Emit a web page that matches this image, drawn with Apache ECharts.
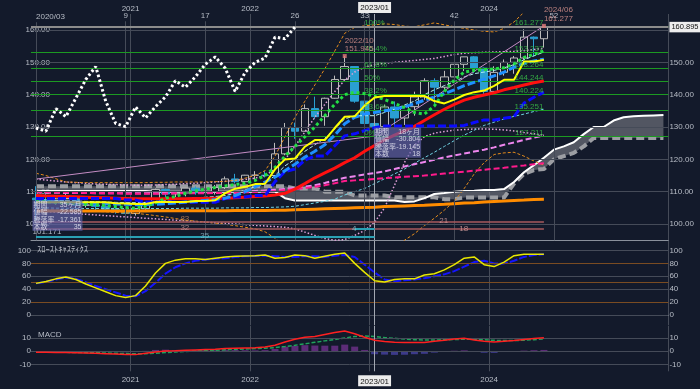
<!DOCTYPE html>
<html><head><meta charset="utf-8">
<script src="https://cdn.jsdelivr.net/npm/echarts@6/dist/echarts.min.js"></script>
<style>html,body{margin:0;padding:0;background:#131a2b;}#chart{width:700px;height:389px;}</style>
</head><body><div id="chart"></div>
<script>
// ---------- categories ----------
const months = ['2020/03','2020/04','2020/05','2020/06','2020/07','2020/08','2020/09','2020/10','2020/11','2020/12',
'2021/01','2021/02','2021/03','2021/04','2021/05','2021/06','2021/07','2021/08','2021/09','2021/10','2021/11','2021/12',
'2022/01','2022/02','2022/03','2022/04','2022/05','2022/06','2022/07','2022/08','2022/09','2022/10','2022/11','2022/12',
'2023/01','2023/02','2023/03','2023/04','2023/05','2023/06','2023/07','2023/08','2023/09','2023/10','2023/11','2023/12',
'2024/01','2024/02','2024/03','2024/04','2024/05','2024/06','2024/07','2024/08','2024/09','2024/10','2024/11','2024/12',
'2025/01','2025/02','2025/03','2025/04','2025/05','2025/06'];
const yearBoundaryIdx = [10, 22, 34, 46];
const yearLabels = {10:'2021', 22:'2022', 46:'2024'};
const cursorIdx = 34, cursorLabel = '2023/01';
const countIdx = [9, 17, 26, 33, 42, 52];
const startLabel = '2020/03';

// ---------- candles ----------
const open  = [108.0,107.5,107.2,107.8,107.9,105.8,105.9,105.5,104.6,104.3,103.25,104.7,106.6,110.7,109.3,109.6,111.1,109.7,110.0,111.3,113.95,113.1,115.1,115.1,115.0,121.7,129.8,128.7,135.7,133.2,138.9,144.7,148.7,138.0,131.1,130.1,136.2,132.8,136.3,139.3,144.3,142.3,145.5,149.4,151.7,148.2,141.0,146.9,150.0,151.35,157.8,157.3];
const high  = [111.71,109.38,108.08,109.85,108.16,107.05,106.55,105.80,105.68,104.75,104.94,106.69,110.97,110.96,110.20,111.11,111.66,110.80,112.08,114.70,115.52,115.20,116.35,116.34,125.10,131.25,131.35,137.00,139.39,139.08,145.90,151.945,148.82,138.18,131.50,136.92,137.91,136.56,140.93,145.07,145.07,147.37,149.71,151.72,151.91,148.40,148.80,150.89,151.97,160.21,157.99,161.277];
const low   = [101.171,106.36,105.99,106.07,104.19,105.10,104.00,104.02,103.18,102.88,102.59,104.41,106.36,107.48,108.34,108.56,109.06,108.72,109.11,110.82,112.53,112.54,113.47,114.40,114.65,121.27,126.36,128.65,132.50,130.39,138.77,144.56,137.50,130.57,127.211,128.08,129.64,130.63,133.50,138.43,137.24,141.51,144.44,147.30,146.67,140.25,140.80,145.90,146.48,150.81,151.86,154.55];
const close = [107.5,107.2,107.8,107.9,105.8,105.9,105.5,104.6,104.3,103.25,104.7,106.6,110.7,109.3,109.6,111.1,109.7,110.0,111.3,113.95,113.1,115.1,115.1,115.0,121.7,129.8,128.7,135.7,133.2,138.9,144.7,148.7,138.0,131.1,130.1,136.2,132.8,136.3,139.3,144.3,142.3,145.5,149.4,151.7,148.2,141.0,146.9,150.0,151.35,157.8,157.3,160.895];

// ---------- ichimoku ----------
const laggingSpan = [129.7,128.7,135.7,133.2,138.9,144.7,148.7,138.0,131.1,130.1,136.2,132.8,136.3,139.3,144.3,142.3,145.5,149.4,151.7,148.2,141.0,146.9,150.0,151.35,157.8,157.3,160.895];
const spanA = [110.2,110.2,110.2,110.2,110.2,110.2,110.2,110.2,110.2,110.2,110.2,110.2,110.0,110.0,110.0,110.0,110.0,110.0,110.0,110.0,110.0,110.0,110.0,110.0,110.0,
108.0,107.3,107.3,107.3,107.3,107.3,107.3,107.3,107.3,107.3,107.3,107.3,106.8,107.0,108.0,109.3,109.6,110.0,110.2,110.3,110.5,110.5,110.8,
113.0,116.0,118.2,120.5,123.0,124.0,125.3,127.8,130.0,130.0,132.0,133.0,133.3,133.5,133.6,133.7];
const spanB = [111.7,111.7,111.7,111.7,111.7,111.7,111.7,111.7,111.7,111.7,111.7,111.7,111.7,111.7,111.7,111.7,111.7,111.7,111.7,111.7,111.7,111.7,111.7,111.7,111.7,111.7,
111.0,111.0,111.0,110.0,110.0,110.0,108.8,108.8,108.8,108.8,108.3,108.3,108.3,108.3,108.3,107.7,107.7,108.2,108.2,108.2,108.2,108.2,
112.5,115.5,116.7,117.0,120.0,121.0,122.0,124.0,126.6,126.6,126.6,126.6,126.6,126.6,126.6,126.6];
const tenkan = [106.7,106.7,106.7,106.7,106.7,106.7,106.7,106.7,106.45,106.37,106.22,106.22,106.78,106.78,106.78,106.85,107.13,107.13,107.34,109.56,110.94,111.5,112.35,112.46,116.91,119.99,120.23,123.91,125.96,125.97,129.69,133.18,133.3,136.61,139.16,139.59,139.59,139.59,139.59,139.59,138.02,137.3,138.47,139.9,140.78,141.27,142.7,144.58,144.6,150.23,150.23,150.76];
const kijun = [107.9,107.9,107.9,107.9,107.9,107.9,107.9,107.9,107.9,107.4,107.4,106.8,106.8,106.8,106.8,106.7,106.7,106.7,106.7,107.9,108.35,108.35,108.8,108.8,113.1,116.2,117.0,119.8,121.0,121.0,124.2,127.27,127.9,128.9,129.8,130.3,130.3,130.3,130.3,130.3,130.3,130.3,130.3,130.5,131.4,132.2,132.2,132.7,133.2,137.4,139.2,140.8];

// ---------- moving lines ----------
const blueMA = [107.0,106.9,106.8,106.7,106.6,106.5,106.4,106.3,106.2,106.1,106.0,106.0,106.1,106.3,106.5,106.8,107.0,107.3,107.6,108.0,108.8,110.0,111.5,113.0,114.5,116.5,118.5,120.7,122.5,124.5,127.5,131.0,133.0,134.0,134.5,135.0,135.5,136.2,137.2,138.3,139.3,140.3,141.5,142.8,143.8,144.8,145.8,147.0,148.5,149.7,150.4,151.0];
const redMA = [108.8,108.7,108.6,108.5,108.4,108.3,108.2,108.1,108.0,107.9,107.8,107.8,107.8,107.8,107.8,107.8,107.9,107.9,108.0,108.0,108.1,108.3,108.5,108.7,109.0,109.5,110.8,112.5,114.3,115.8,117.3,119.0,120.5,122.5,124.3,126.0,127.5,128.8,130.2,132.0,133.8,135.5,137.0,138.3,139.2,139.9,140.6,141.5,142.2,143.0,143.7,144.2];
const orangeMA = [104.0,104.0,104.0,104.0,104.0,104.0,104.0,104.0,104.0,104.0,104.0,104.0,104.1,104.1,104.1,104.1,104.1,104.1,104.1,104.1,104.2,104.2,104.2,104.2,104.3,104.3,104.4,104.5,104.6,104.7,104.8,104.9,105.0,105.1,105.2,105.4,105.5,105.6,105.7,105.8,106.0,106.1,106.3,106.5,106.6,106.8,107.0,107.1,107.3,107.4,107.6,107.7];
const pinkMA = [110.0,109.9,109.8,109.8,109.7,109.6,109.6,109.5,109.5,109.4,109.4,109.4,109.4,109.4,109.5,109.5,109.5,109.5,109.6,109.6,109.7,109.8,109.9,110.0,110.2,110.5,110.8,111.1,111.5,112.0,112.6,113.3,113.5,113.7,113.9,114.2,114.4,114.6,114.8,115.0,115.3,115.6,115.9,116.2,116.5,116.8,117.1,117.4,117.8,118.1,118.5,118.8];
const violetMA = [109.8,109.7,109.7,109.6,109.6,109.6,109.5,109.5,109.5,109.5,109.5,109.5,109.5,109.6,109.6,109.6,109.7,109.7,109.8,109.8,109.9,110.0,110.2,110.4,110.6,110.8,111.2,111.6,112.0,112.7,113.5,114.3,114.8,115.3,115.8,116.3,117.0,117.8,118.5,119.2,119.9,120.6,121.2,121.8,122.4,123.0,123.7,124.5,125.2,126.0,126.7,127.4];
const greenDots = [107.0,106.8,106.6,106.5,106.3,106.1,106.0,105.7,105.4,105.1,104.9,105.5,106.5,108.0,108.5,109.5,110.2,110.8,111.3,111.8,112.2,112.6,113.5,115.0,117.5,121.0,124.0,127.0,130.0,133.5,137.0,140.0,140.8,140.3,139.5,138.5,137.3,136.0,134.5,134.0,136.5,141.0,144.5,147.0,147.5,147.7,148.0,148.3,149.5,151.5,152.5,153.5];
const cyanUpper = [107.5,107.4,107.3,107.2,107.1,107.0,106.9,106.8,106.7,106.6,106.6,106.7,107.0,107.3,107.6,107.9,108.1,108.3,108.5,108.8,109.5,110.5,111.5,112.5,115.0,118.0,120.0,122.5,124.5,126.5,129.5,132.5,133.5,133.5,133.5,134.5,135.5,136.8,138.0,140.0,141.5,142.8,144.0,145.5,146.5,147.0,147.5,148.3,149.3,150.8,152.0,153.2];
const cyanLower = [105.0,105.0,104.9,104.9,104.8,104.8,104.8,104.8,104.8,104.8,104.8,104.8,104.8,104.8,104.8,104.9,104.9,104.9,104.9,105.0,105.0,105.0,105.1,105.1,105.2,105.3,105.5,106.0,106.5,107.0,107.7,109.0,110.0,111.0,112.5,114.0,115.5,117.0,118.8,120.5,122.2,124.0,125.8,127.5,129.0,130.5,131.5,132.5,133.3,134.0,134.8,135.5];
const bandUpper = [115.7,115.0,114.0,113.0,112.9,112.8,112.8,112.8,112.8,112.8,112.8,112.8,112.9,112.9,113.0,113.0,113.0,113.0,113.1,113.2,113.5,114.2,115.0,116.5,121.0,127.0,133.0,138.0,143.0,148.0,153.5,159.0,160.8,161.3,161.6,161.9,161.7,161.2,161.0,161.6,162.2,161.6,161.0,160.5,160.0,159.6,159.4,160.5,162.5,165.5,168.0,170.0];
const bandLower = [104.5,104.4,104.3,104.2,104.1,104.0,103.9,103.8,103.6,103.4,103.3,103.0,102.6,102.2,101.7,101.2,100.9,100.6,100.3,99.9,99.5,99.0,98.5,97.6,95.6,93.0,90.0,88.0,87.0,86.0,85.0,84.0,84.0,85.0,86.0,88.0,91.0,95.0,97.0,99.5,101.8,104.3,107.0,111.0,115.5,119.0,121.5,122.0,122.2,121.0,119.5,118.2];
const band3Upper = [113.9,113.6,113.3,113.0,112.8,112.6,112.4,112.3,112.2,112.1,112.0,112.0,112.1,112.2,112.3,112.5,112.6,112.8,113.0,113.2,113.5,113.8,114.2,115.0,117.0,120.0,124.0,128.5,133.0,137.0,141.0,144.5,147.0,148.5,149.3,149.7,150.0,150.3,150.6,150.9,151.2,151.8,152.4,152.8,153.0,153.1,153.2,153.3,153.4,153.6,154.0,154.3];
const band3Lower = [104.0,103.8,103.6,103.4,103.2,103.0,102.8,102.6,102.4,102.2,102.0,101.8,101.6,101.4,101.2,101.0,100.8,100.6,100.4,100.2,100.0,99.8,99.6,99.4,99.2,99.0,98.5,97.5,96.5,95.5,95.0,95.2,96.5,98.0,100.5,105.0,112.0,119.0,124.4,127.0,128.1,128.6,129.0,129.2,129.4,129.4,129.3,129.1,128.8,128.3,127.9,127.5];
const trendLineA = [[0, 113.9], [34, 127.211]];
const fibDiagonal = [[34, 127.211], [51, 161.277]];

// ---------- fibonacci ----------
const fibLevels = [161.277, 153.237, 148.264, 144.244, 140.224, 135.251, 127.211];
const fibPct = ['100%', '76.4%', '61.8%', '50%', '38.2%', '23.6%', '0%'];
const fibText = ['161.277', '153.237', '148.264', '144.244', '140.224', '135.251', '127.211'];
const fibFrom = 33, fibTo = 51;
const lastPrice = 160.895;

// ---------- count lines ----------
const countLevelsRose = [100.6, 98.4];
const countLineCyan = [[0, 95.97, 34], [32, 98.4, 34]];
const countLabels = [[15, 101.5, '83', '#c8885a'], [15, 98.7, '32', '#c89a9a'], [17, 96.3, '35', '#8ab8c8'], [41, 101.0, '21', '#d8a0a0'], [42.5, 98.5, '18', '#d8a0a0'], [32, 98.5, '4', '#8ad0dc']];
const lowLabel = [0, 97.3, '101.171'];
const infoBox1 = [['期間', '35ヶ月'], ['値幅', '-22.585'], ['騰落率', '-17.361'], ['本数', '35']];
const infoBox2 = [['期間', '18ヶ月'], ['値幅', '-30.804'], ['騰落率', '-19.145'], ['本数', '18']];
const infoAnchor1 = [0, 107.1], infoAnchor2 = [34, 129.7];
const peakMarks = [[31, 151.945, '2022/10\n151.945'], [51, 161.277, '2024/06\n161.277']];

// ---------- oscillators ----------
const stochK = [49,52,56,59,55,48,42,36,30,27,30,45,65,80,85,87,87,86,88,90,91,91.5,92,93,88,89,93,92,88,91,94,96,80,66,53,51,55,56,56,62,64,70,78,88,90,78,75,82,92,94,94,94];
const stochD = [49,51,55,58,56,51,45,40,35,30,29,37,50,64,74,80,84,86,87,88,90,91,91.5,92,91,90,90,91,91,90,92,93,90,78,66,55,52,54,55,57,60,63,68,75,82,84,80,80,84,90,93,94];
const macdLine = [-0.7,-0.8,-0.9,-1.0,-1.1,-1.3,-1.5,-1.8,-2.1,-2.4,-2.5,-1.5,-0.5,0.2,0.4,0.7,1.0,1.3,1.6,2.0,2.3,2.5,2.7,3.2,4.5,7.0,9.0,10.5,11.0,12.5,14.0,15.2,13.2,10.5,8.3,7.3,6.8,6.5,6.5,6.6,7.5,8.3,9.2,9.7,8.5,7.5,7.0,7.5,8.0,8.8,9.5,10.2];
const signalLine = [-0.5,-0.6,-0.7,-0.8,-0.9,-1.0,-1.1,-1.3,-1.5,-1.7,-1.9,-1.8,-1.5,-1.0,-0.5,-0.2,0.2,0.5,0.8,1.1,1.4,1.7,2.0,2.3,2.8,3.6,4.5,5.6,6.7,7.8,8.8,10.0,11.0,11.5,11.0,10.3,9.7,9.2,8.7,8.5,8.5,8.6,8.8,9.0,9.0,8.6,8.2,8.0,8.0,8.3,8.7,9.2];
const macdHist = [-0.2,-0.2,-0.2,-0.2,-0.2,-0.3,-0.4,-0.5,-0.6,-0.7,-0.6,0.3,1.0,1.2,0.9,0.9,0.8,0.8,0.8,0.9,0.9,0.8,0.7,0.9,1.7,3.4,4.0,4.6,4.3,4.2,4.2,5.0,3.5,1.0,-2.2,-2.5,-2.7,-2.6,-2.2,-1.9,-1.0,-0.3,0.4,0.7,-0.5,-1.1,-1.2,-0.5,0,0.5,0.8,1.0];
const mainGridLevels = [100,110,120,130,140,150,160];
const stochGrey = [100,60,40,0], stochBrown = [80,50,20];
const macdLevels = [10,0,-10];

// ================= chart =================
const FONT = "'Liberation Sans','Noto Sans CJK JP',sans-serif";
const AX = '#b8bdc7', GL = '#454b58';
const chart = echarts.init(document.getElementById('chart'));

const cloudBase = spanA.map((a, i) => Math.min(a, spanB[i]));
const cloudBand = spanA.map((a, i) => Math.abs(a - spanB[i]));

function ml(data, extra) {
  return Object.assign({silent: true, symbol: ['none','none'], animation: false, label: {show: false}, data}, extra || {});
}
function catAxis(grid, extra) {
  return Object.assign({type: 'category', gridIndex: grid, data: months, boundaryGap: true,
    axisLine: {show: false}, axisTick: {show: false}, axisLabel: {show: false},
    splitLine: {show: true, interval: (i) => yearBoundaryIdx.includes(i), lineStyle: {color: GL, width: 1}}}, extra || {});
}
const yearLabelOpt = (margin) => ({show: true, margin, fontFamily: FONT, fontSize: 8, color: AX,
  interval: (i) => (i in yearLabels) || i === cursorIdx,
  formatter: (v, i) => i === cursorIdx ? '{b|' + cursorLabel + '}' : '{y|' + yearLabels[i] + '}',
  rich: {y: {padding: [0, 10, 0, 0], fontSize: 8, color: AX, fontFamily: FONT},
         b: {backgroundColor: '#ececec', color: '#111', padding: [2, 2, 1, 2], fontSize: 8, fontFamily: FONT}}});
function valAxis(grid, min, max, interval, pos, fmt, margin, align) {
  return {type: 'value', gridIndex: grid, min, max, interval, position: pos, scale: false,
    axisLine: {show: false}, axisTick: {show: false}, splitLine: {show: false},
    axisLabel: {show: true, formatter: fmt, margin, align, fontFamily: FONT, fontSize: 8, color: AX}};
}
const mainFmtL = (v) => (v >= 100 && v <= 160 && Math.abs(v % 10) < 1e-6) ? v.toFixed(2) : '';
const mainFmtR = (v) => (v >= 100 && v <= 150 && Math.abs(v % 10) < 1e-6) ? v.toFixed(2) : '';
const stochFmt = (v) => (v >= 0 && v <= 100 && Math.abs(v % 20) < 1e-6) ? String(v) : '';
const macdFmt = (v) => (Math.abs(v) === 10 || v === 0) ? String(v) : '';

function lineS(name, data, color, width, type, z, extra) {
  return Object.assign({type: 'line', name, data, xAxisIndex: 0, yAxisIndex: 0, symbol: 'none', z: z || 4,
    silent: true, lineStyle: {color, width, type: type || 'solid'}, animation: false}, extra || {});
}
function textPts(name, pts, labelOpt, extra) {
  return Object.assign({type: 'scatter', name, xAxisIndex: 0, yAxisIndex: 0, symbolSize: 1, silent: true, z: 8,
    itemStyle: {color: 'rgba(0,0,0,0)'}, animation: false,
    data: pts.map(p => ({value: [p[0], p[1]], label: Object.assign({show: true, formatter: p[2]}, p[3] ? {color: p[3]} : {})})),
    label: Object.assign({show: true, fontFamily: FONT, fontSize: 8}, labelOpt)}, extra || {});
}
function boxText(rows) {
  return rows.map(r => '{k|' + r[0] + '}{v|' + r[1] + '}').join('\n');
}
const boxRich = (kw, vw) => ({k: {width: kw, align: 'left', fontSize: 7, lineHeight: 7.3, color: '#ececf6', fontFamily: FONT},
  v: {width: vw, align: 'right', fontSize: 7, lineHeight: 7.3, color: '#ececf6', fontFamily: FONT}});

const vLines = countIdx.map(i => [{coord: [i, 95], label: {show: true, position: 'end', distance: 1, formatter: String(i), color: AX, fontSize: 8, fontFamily: FONT}}, {coord: [i, 162.7]}]);
vLines.push([{coord: [0, 95], label: {show: true, position: 'end', distance: 1, align: 'left', formatter: startLabel, color: AX, fontSize: 8, fontFamily: FONT}}, {coord: [0, 162.4]}]);

const option = {
  backgroundColor: '#131a2b',
  animation: false,
  textStyle: {fontFamily: FONT},
  title: [
    {text: 'ｽﾛｰｽﾄｷｬｽﾃｨｸｽ', left: 32, top: 240, textStyle: {color: AX, fontSize: 8.5, fontWeight: 'normal', fontFamily: "'Noto Sans CJK JP',sans-serif"}},
    {text: 'MACD', left: 33, top: 326, textStyle: {color: AX, fontSize: 8, fontWeight: 'normal', fontFamily: FONT}}
  ],
  grid: [
    {left: 31, right: 31.6, top: 14, height: 226.2},
    {left: 31, right: 31.6, top: 241, height: 84.3},
    {left: 31, right: 31.6, top: 326, height: 45.3}
  ],
  xAxis: [
    catAxis(0, {position: 'top', axisLabel: yearLabelOpt(1)}),
    catAxis(0, {position: 'bottom', splitLine: {show: false}, axisLine: {show: true, lineStyle: {color: '#8a909b', width: 1}}}),
    catAxis(1, {position: 'bottom', axisLine: {show: true, lineStyle: {color: '#8a909b', width: 1}}}),
    catAxis(2, {position: 'bottom', axisLabel: yearLabelOpt(4)})
  ],
  yAxis: [
    valAxis(0, 95, 164.95, 5, 'left', mainFmtL, -19, 'right'),
    valAxis(0, 95, 164.95, 5, 'right', mainFmtR, 1, 'left'),
    valAxis(1, -16, 114.7, 4, 'left', stochFmt, 0, 'right'),
    valAxis(1, -16, 114.7, 4, 'right', stochFmt, 1, 'left'),
    valAxis(2, -15, 18.95, 5, 'left', macdFmt, 0, 'right'),
    valAxis(2, -15, 18.95, 5, 'right', macdFmt, 1, 'left')
  ],
  series: [
    {type: 'line', data: [], xAxisIndex: 0, yAxisIndex: 0, z: 1, silent: true,
      markLine: ml(mainGridLevels.map(v => ({yAxis: v, lineStyle: {color: GL, width: 1, type: 'solid'}}))
        .concat(vLines.map(p => [Object.assign({lineStyle: {color: GL, width: 1, type: 'solid'}}, p[0]), p[1]]))
        .concat([{xAxis: cursorIdx, lineStyle: {color: '#a3a8b2', width: 1, type: 'solid'}}]))},
    lineS('cloudBase', cloudBase, 'rgba(0,0,0,0)', 0, 'solid', 2, {stack: 'cloud'}),
    lineS('cloudBand', cloudBand, 'rgba(0,0,0,0)', 0, 'solid', 2, {stack: 'cloud', areaStyle: {color: 'rgba(118,122,132,0.9)', origin: 'auto'}}),
    lineS('spanB', spanB, '#9c9ea3', 4, [8, 4], 3),
    lineS('spanA', spanA, '#ffffff', 2, 'solid', 3),
    {type: 'line', data: [], xAxisIndex: 0, yAxisIndex: 0, z: 2, silent: true,
      markLine: ml(fibLevels.map(v => ({yAxis: v, lineStyle: {color: '#1c9a22', width: 1, type: 'solid'}}))
        .concat(countLevelsRose.map(v => [{coord: [0, v], lineStyle: {color: '#a85a5e', width: 1.5, type: 'solid'}}, {coord: [51, v]}]))
        .concat(countLineCyan.map(c => [{coord: [c[0], c[1]], lineStyle: {color: '#2aa0b4', width: 2, type: 'solid'}}, {coord: [c[2], c[1]]}]))
        .concat([{yAxis: lastPrice, lineStyle: {color: '#8c8c8c', width: 2, type: 'solid'},
          label: {show: true, position: 'end', distance: 1, formatter: String(lastPrice), backgroundColor: '#eeeeee', color: '#111', padding: [2, 2, 1, 2], fontSize: 7.5, fontFamily: FONT}}]))},
    {type: 'candlestick', name: 'USDJPY', xAxisIndex: 0, yAxisIndex: 0, z: 3, barWidth: 8, silent: true,
      data: open.map((o, i) => [o, close[i], low[i], high[i]]),
      itemStyle: {color: '#131a2b', color0: '#2a9fd2', borderColor: '#bcbcbc', borderColor0: '#2a9fd2', borderWidth: 1}},
    lineS('band3Upper', band3Upper, '#dfa0d8', 1.5, [1.5, 2], 4),
    lineS('band3Lower', band3Lower, '#dfa0d8', 1.5, [1.5, 2], 4),
    lineS('bandUpper', bandUpper, '#e48c1c', 1, [3, 2], 4),
    lineS('bandLower', bandLower, '#e48c1c', 1, [3, 2], 4),
    lineS('orangeMA', orangeMA, '#ff8c00', 3, 'solid', 4),
    lineS('cyanLower', cyanLower, '#6fd2e2', 1, [3, 2], 4),
    lineS('cyanUpper', cyanUpper, '#b4f2f0', 1, [4, 2], 4),
    lineS('violetMA', violetMA, '#ee86ee', 2, [6, 3], 4),
    lineS('pinkMA', pinkMA, '#ff1a8c', 2, [6, 3], 4),
    lineS('trendLineA', trendLineA, '#c48cc4', 1, 'solid', 4),
    lineS('fibDiagonal', fibDiagonal, '#c48cc4', 1, 'solid', 4),
    lineS('redMA', redMA, '#ff1010', 3, 'solid', 5),
    lineS('kijun', kijun, '#0a0aff', 3, [8, 3], 5),
    lineS('blueMA', blueMA, '#1e8fff', 3, [8, 3], 5),
    lineS('greenDots', greenDots, '#22dd44', 3, [3, 3], 5),
    lineS('tenkan', tenkan, '#ffff00', 2, 'solid', 6),
    lineS('laggingSpan', laggingSpan, '#ffffff', 3, [2.5, 2.5], 6),
    textPts('fibPct', fibLevels.map((v, k) => [fibFrom, v, fibPct[k]]), {position: [0, -7], align: 'left', verticalAlign: 'top', color: '#3cc84a'}),
    textPts('fibVal', fibLevels.map((v, k) => [fibTo, v, fibText[k]]), {position: [0, -7], align: 'right', verticalAlign: 'top', color: '#3cc84a'}),
    textPts('countLabels', countLabels.map(c => [c[0], c[1], c[2], c[3]]), {position: [0, -4], align: 'center', verticalAlign: 'top'}),
    textPts('lowLabel', [lowLabel], {position: [-3, -4], align: 'left', verticalAlign: 'top', color: '#d6dce6'}),
    textPts('info1', [[infoAnchor1[0], infoAnchor1[1], boxText(infoBox1)]], {position: [-3, 0], align: 'left', verticalAlign: 'top',
      backgroundColor: 'rgba(98,98,168,0.85)', padding: [1, 1, 0, 1], rich: boxRich(22, 26)}),
    textPts('info2', [[infoAnchor2[0], infoAnchor2[1], boxText(infoBox2)]], {position: [0, 0], align: 'left', verticalAlign: 'top',
      backgroundColor: 'rgba(98,98,168,0.85)', padding: [1, 1, 0, 1], rich: boxRich(20, 25)}),
    {type: 'scatter', name: 'peaks', xAxisIndex: 0, yAxisIndex: 0, z: 8, silent: true, symbol: 'rect', symbolSize: 4,
      itemStyle: {color: '#e27a7a'}, data: peakMarks.map(p => ({value: [p[0], p[1]], label: {formatter: p[2]}})),
      label: {show: true, position: 'top', align: 'left', distance: 1, color: '#e39a94', fontSize: 8, lineHeight: 8.5, fontFamily: FONT}},

    {type: 'line', data: [], xAxisIndex: 2, yAxisIndex: 2, z: 1, silent: true,
      markLine: ml(stochGrey.map(v => ({yAxis: v, lineStyle: {color: GL, width: 1, type: 'solid'}}))
        .concat(stochBrown.map(v => ({yAxis: v, lineStyle: {color: '#7a4c22', width: 1, type: 'solid'}})))
        .concat([{xAxis: cursorIdx, lineStyle: {color: '#a3a8b2', width: 1, type: 'solid'}}]))},
    {type: 'line', name: '%D', data: stochD, xAxisIndex: 2, yAxisIndex: 2, symbol: 'none', z: 4, lineStyle: {color: '#1414ff', width: 2, type: [8, 2]}},
    {type: 'line', name: '%K', data: stochK, xAxisIndex: 2, yAxisIndex: 2, symbol: 'none', z: 5, lineStyle: {color: '#e8e800', width: 1.5}},

    {type: 'line', data: [], xAxisIndex: 3, yAxisIndex: 4, z: 1, silent: true,
      markLine: ml(macdLevels.map(v => ({yAxis: v, lineStyle: {color: GL, width: 1, type: 'solid'}}))
        .concat([{xAxis: cursorIdx, lineStyle: {color: '#a3a8b2', width: 1, type: 'solid'}}]))},
    {type: 'bar', name: 'hist', data: macdHist, xAxisIndex: 3, yAxisIndex: 4, barWidth: 7, z: 2,
      itemStyle: {color: (p) => p.value >= 0 ? '#5c2c78' : '#3c3a8a'}},
    {type: 'line', name: 'signal', data: signalLine, xAxisIndex: 3, yAxisIndex: 4, symbol: 'none', z: 4, lineStyle: {color: '#1fa45c', width: 1.5, type: [4, 2]}},
    {type: 'line', name: 'MACD', data: macdLine, xAxisIndex: 3, yAxisIndex: 4, symbol: 'none', z: 5, lineStyle: {color: '#ff2020', width: 1.5}}
  ]
};
chart.setOption(option);
</script></body></html>
